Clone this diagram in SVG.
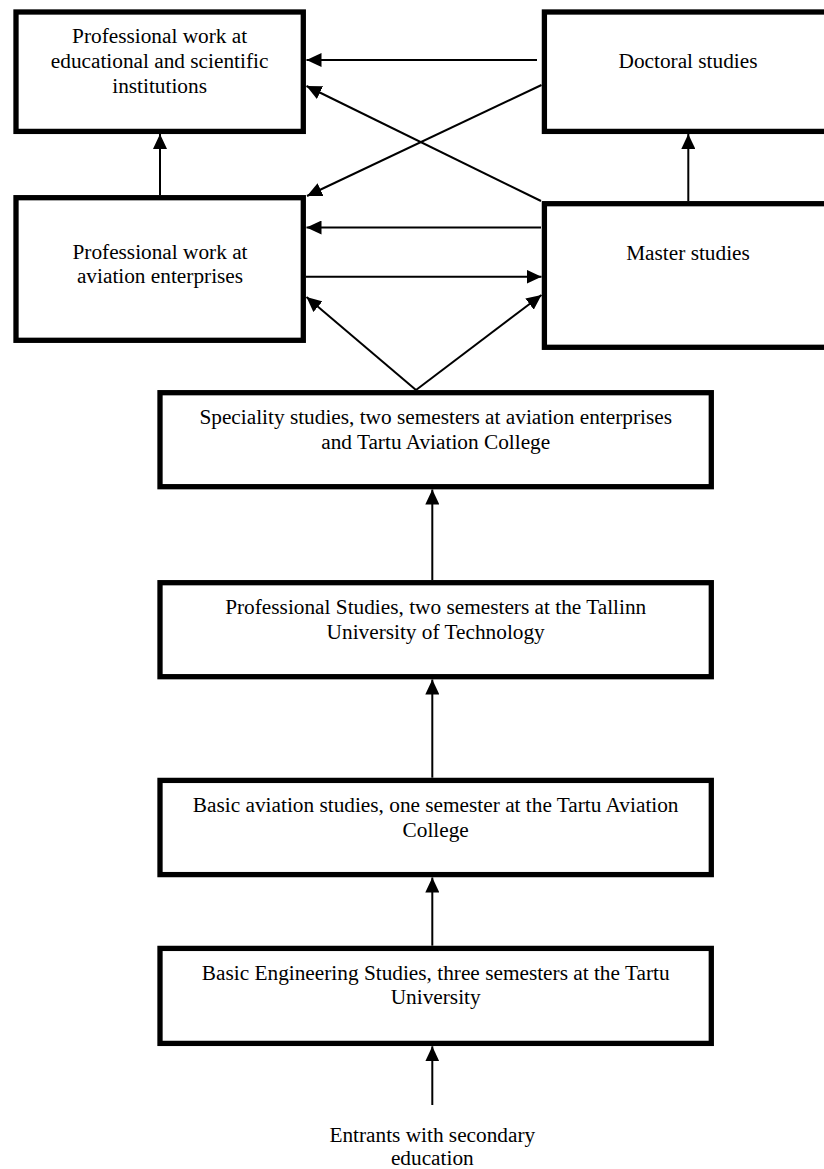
<svg xmlns="http://www.w3.org/2000/svg" width="824" height="1169" viewBox="0 0 824 1169">
<style>
.box{fill:#fff;stroke:#000;stroke-width:5.3}
.t{font-family:"Liberation Serif","Times New Roman",serif;font-size:21.3px;fill:#000;text-anchor:middle}
.c{stroke:#000;stroke-width:2;fill:none;marker-end:url(#ah)}
</style>
<defs>
<marker id="ah" markerUnits="userSpaceOnUse" markerWidth="16" markerHeight="14" refX="15" refY="7" orient="auto">
<path d="M0,0 L15,7 L0,14 z" fill="#000"/>
</marker>
</defs>
<rect width="824" height="1169" fill="#fff"/>
<g id="connectors">
<line class="c" x1="537" y1="60" x2="306.5" y2="60"/>
<line class="c" x1="541" y1="201" x2="306.5" y2="86"/>
<line class="c" x1="541.5" y1="85" x2="307" y2="196"/>
<line class="c" x1="160" y1="195" x2="160" y2="134"/>
<line class="c" x1="541" y1="227.5" x2="306.5" y2="227.5"/>
<line class="c" x1="306" y1="276.7" x2="541.5" y2="276.7"/>
<line class="c" x1="416" y1="390" x2="306.5" y2="297"/>
<line class="c" x1="416" y1="390" x2="541.5" y2="295"/>
<line class="c" x1="688.3" y1="201" x2="688.3" y2="134"/>
<line class="c" x1="432.3" y1="580" x2="432.3" y2="489.5"/>
<line class="c" x1="432.3" y1="777.7" x2="432.3" y2="679.5"/>
<line class="c" x1="432.3" y1="945.7" x2="432.3" y2="877.5"/>
<line class="c" x1="432.3" y1="1105" x2="432.3" y2="1046.3"/>
</g>
<g id="n-edu">
<rect class="box" x="16" y="12" width="287.3" height="119.4"/>
<text class="t" x="159.6" y="43.3">Professional work at</text>
<text class="t" x="159.6" y="68.3">educational and scientific</text>
<text class="t" x="159.6" y="92.7">institutions</text>
</g>
<g id="n-doctoral">
<rect class="box" x="544.4" y="12" width="300" height="119.4"/>
<text class="t" x="688" y="68">Doctoral studies</text>
</g>
<g id="n-aviation-work">
<rect class="box" x="16" y="197.7" width="287.3" height="142.6"/>
<text class="t" x="160" y="259">Professional work at</text>
<text class="t" x="160" y="283">aviation enterprises</text>
</g>
<g id="n-master">
<rect class="box" x="544.4" y="203.7" width="300" height="143.6"/>
<text class="t" x="688" y="259.5">Master studies</text>
</g>
<g id="n-speciality">
<rect class="box" x="160" y="392.7" width="551.3" height="94"/>
<text class="t" x="435.7" y="424">Speciality studies, two semesters at aviation enterprises</text>
<text class="t" x="435.7" y="449">and Tartu Aviation College</text>
</g>
<g id="n-professional">
<rect class="box" x="160" y="582.7" width="551.3" height="94"/>
<text class="t" x="435.7" y="613.5">Professional Studies, two semesters at the Tallinn</text>
<text class="t" x="435.7" y="638.5">University of Technology</text>
</g>
<g id="n-basic-aviation">
<rect class="box" x="160" y="780.4" width="551.3" height="94.2"/>
<text class="t" x="435.7" y="811.7">Basic aviation studies, one semester at the Tartu Aviation</text>
<text class="t" x="435.7" y="836.7">College</text>
</g>
<g id="n-basic-eng">
<rect class="box" x="160" y="948.4" width="551.3" height="95"/>
<text class="t" x="435.7" y="979.5">Basic Engineering Studies, three semesters at the Tartu</text>
<text class="t" x="435.7" y="1004">University</text>
</g>
<g id="n-entrants">
<text class="t" x="432.3" y="1142">Entrants with secondary</text>
<text class="t" x="432.3" y="1165">education</text>
</g>
</svg>
